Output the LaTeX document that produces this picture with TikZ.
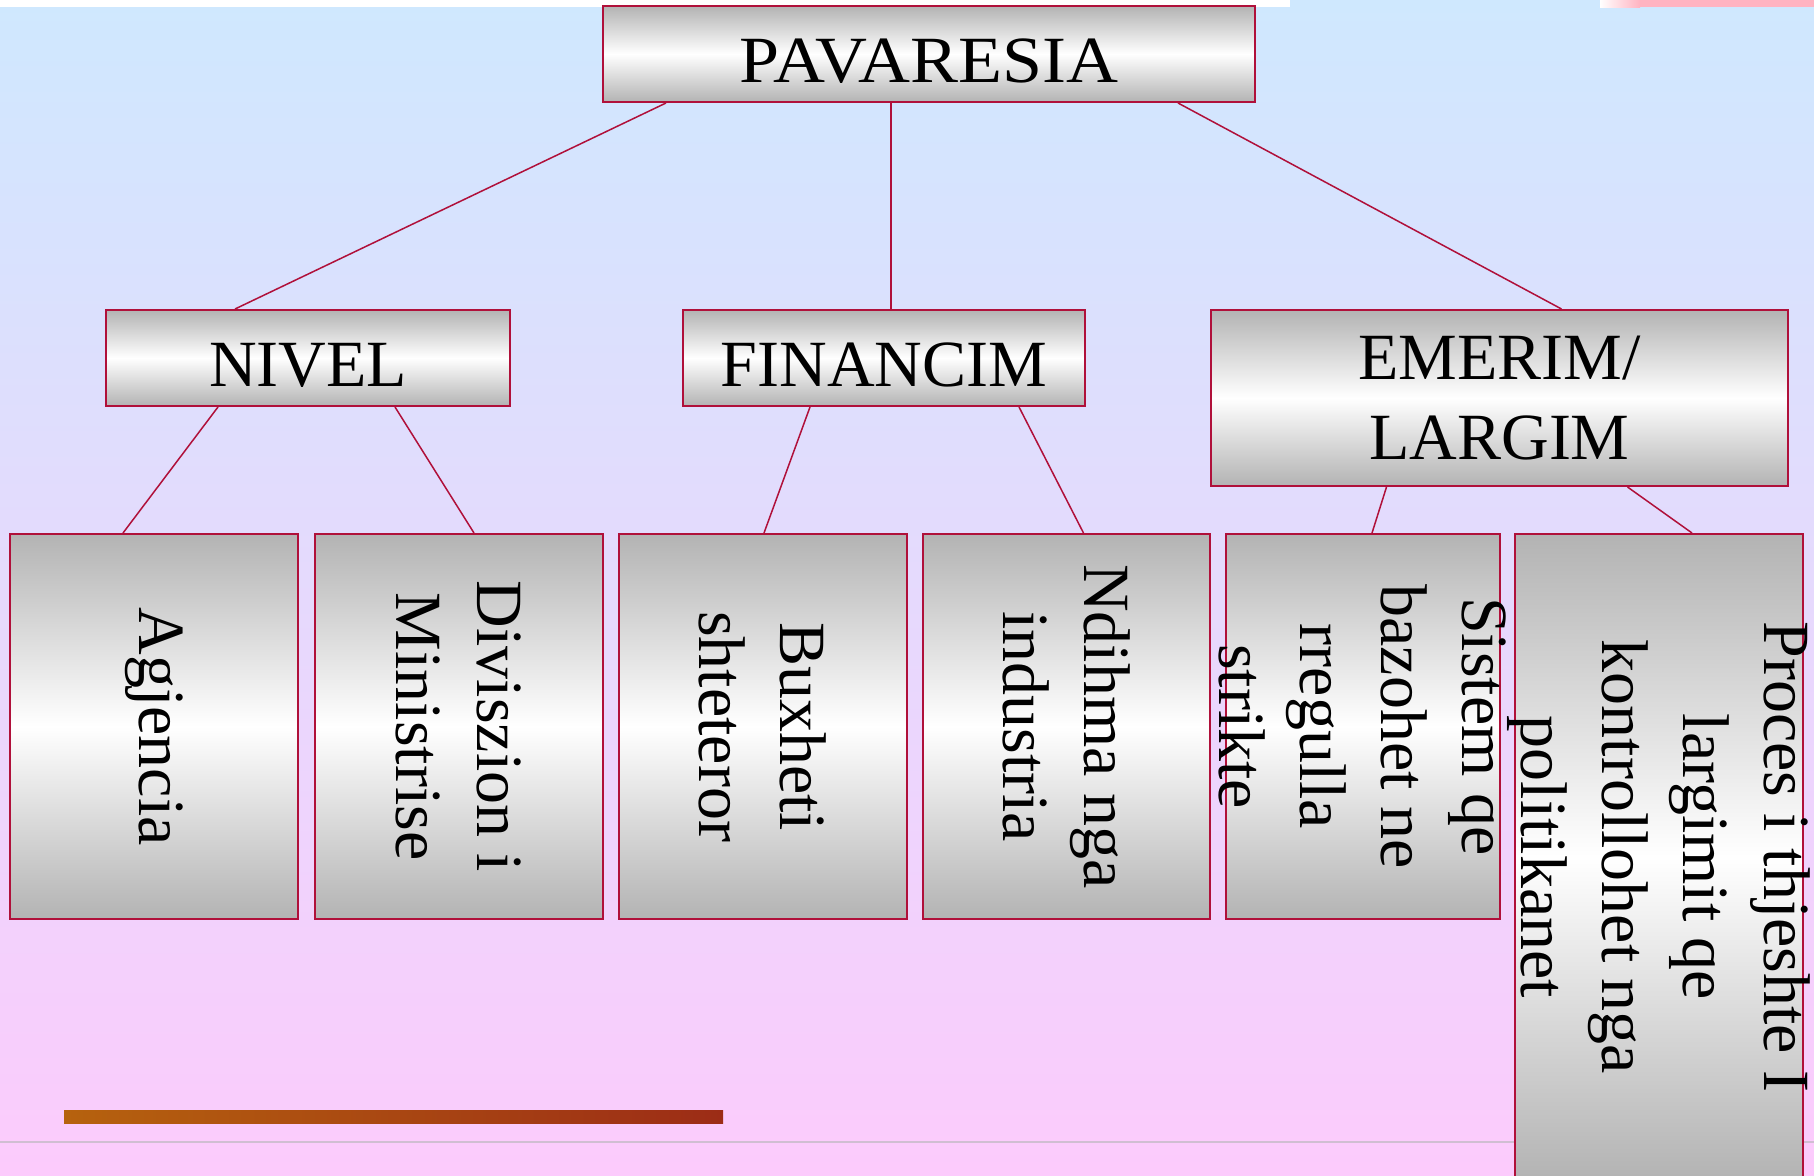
\documentclass[tikz,border=0pt]{standalone}
\usepackage{fontspec}
\setmainfont{Liberation Serif}
\usetikzlibrary{calc}

\definecolor{boxred}{RGB}{176,16,58}
\definecolor{boxgray}{RGB}{179,179,179}
\definecolor{bgblue}{RGB}{207,232,254}
\definecolor{bgpink}{RGB}{252,203,252}
\definecolor{toppink}{RGB}{255,179,193}
\definecolor{rulegray}{RGB}{208,190,210}

\tikzset{every picture/.style={line width=0.75pt}}
\tikzset{
  box/.style={draw=boxred, line width=2, top color=boxgray, bottom color=boxgray, middle color=white, inner sep=0pt, font=\fontsize{66}{80}\selectfont},
  vtext/.style={rotate=-90, align=center, inner sep=0pt, font=\fontsize{66}{81}\selectfont},
  link/.style={draw=boxred, line width=1.5},
}

\begin{document}
\begin{tikzpicture}[x=1pt,y=1pt,yscale=-1,xscale=1]
	\useasboundingbox (0,0) rectangle (1814,1175);

	%Background
	\fill [top color=bgblue, bottom color=bgpink] (0,0) rectangle (1814,1175);
	\fill [white] (0,0) rectangle (1290,7);
	\fill [left color=white, right color=toppink] (1600,0) rectangle (1640,7);
	\fill [toppink] (1640,0) rectangle (1814,7);
	%Straight Lines
	\draw [rulegray, line width=2] (0,1142) -- (1814,1142);
	%Shape: Rectangle (strip)
	\fill [left color={rgb,255:red,182;green,98;blue,14}, middle color={rgb,255:red,118;green,34;blue,6}, right color={rgb,255:red,156;green,44;blue,22}] (64,1110) rectangle (723,1123);

	%Top row
	\node [box, minimum width=652, minimum height=96, text height=56, text depth=0] (pav) at (929,54) {\scalebox{1.09}[1]{PAVARESIA}};
	%Middle row
	\node [box, minimum width=404, minimum height=96, text height=56, text depth=0] (nivel) at (308,358) {NIVEL};
	\node [box, minimum width=402, minimum height=96, text height=56, text depth=0] (fin) at (884,358) {FINANCIM};
	\node [box, minimum width=577, minimum height=176, align=center] (emer) at (1499.5,398) {EMERIM/\\LARGIM};
	%Bottom row
	\node [box, minimum width=288, minimum height=385] (agj) at (154,726.5) {};
	\node [box, minimum width=288, minimum height=385] (div) at (459,726.5) {};
	\node [box, minimum width=288, minimum height=385] (bux) at (763,726.5) {};
	\node [box, minimum width=287, minimum height=385] (ndi) at (1066.5,726.5) {};
	\node [box, minimum width=274, minimum height=385] (sis) at (1363,726.5) {};
	\node [box, minimum width=288, minimum height=646] (pro) at (1659,857) {};

	% Text Node
	\node [vtext] (agjtxt) at (agj) {Agjencia};
	% Text Node
	\node [vtext] (divtxt) at (div) {Diviszion i\\Ministrise};
	% Text Node
	\node [vtext] (buxtxt) at (bux) {Buxheti\\shteteror};
	% Text Node
	\node [vtext] (nditxt) at (ndi) {Ndihma nga\\industria};
	% Text Node
	\node [vtext] (sistxt) at (sis) {Sistem qe\\bazohet ne\\rregulla\\strikte};
	% Text Node
	\node [vtext] (protxt) at (pro) {Proces i thjeshte I\\largimit qe\\kontrollohet nga\\politikanet};

	%Connectors
	\draw [link] ($(pav.south)+(-263,0)$) -- ($(nivel.north)+(-73,0)$);
	\draw [link] ($(pav.south)+(-38,0)$) -- ($(fin.north)+(7,0)$);
	\draw [link] ($(pav.south)+(249,0)$) -- ($(emer.north)+(62,0)$);
	\draw [link] ($(nivel.south)+(-90,0)$) -- ($(agj.north)+(-31,0)$);
	\draw [link] ($(nivel.south)+(87,0)$) -- ($(div.north)+(15,0)$);
	\draw [link] ($(fin.south)+(-74,0)$) -- ($(bux.north)+(1,0)$);
	\draw [link] ($(fin.south)+(135,0)$) -- ($(ndi.north)+(17,0)$);
	\draw [link] ($(emer.south)+(-113,0)$) -- ($(sis.north)+(9,0)$);
	\draw [link] ($(emer.south)+(128,0)$) -- ($(pro.north)+(33,0)$);

\end{tikzpicture}
\end{document}
